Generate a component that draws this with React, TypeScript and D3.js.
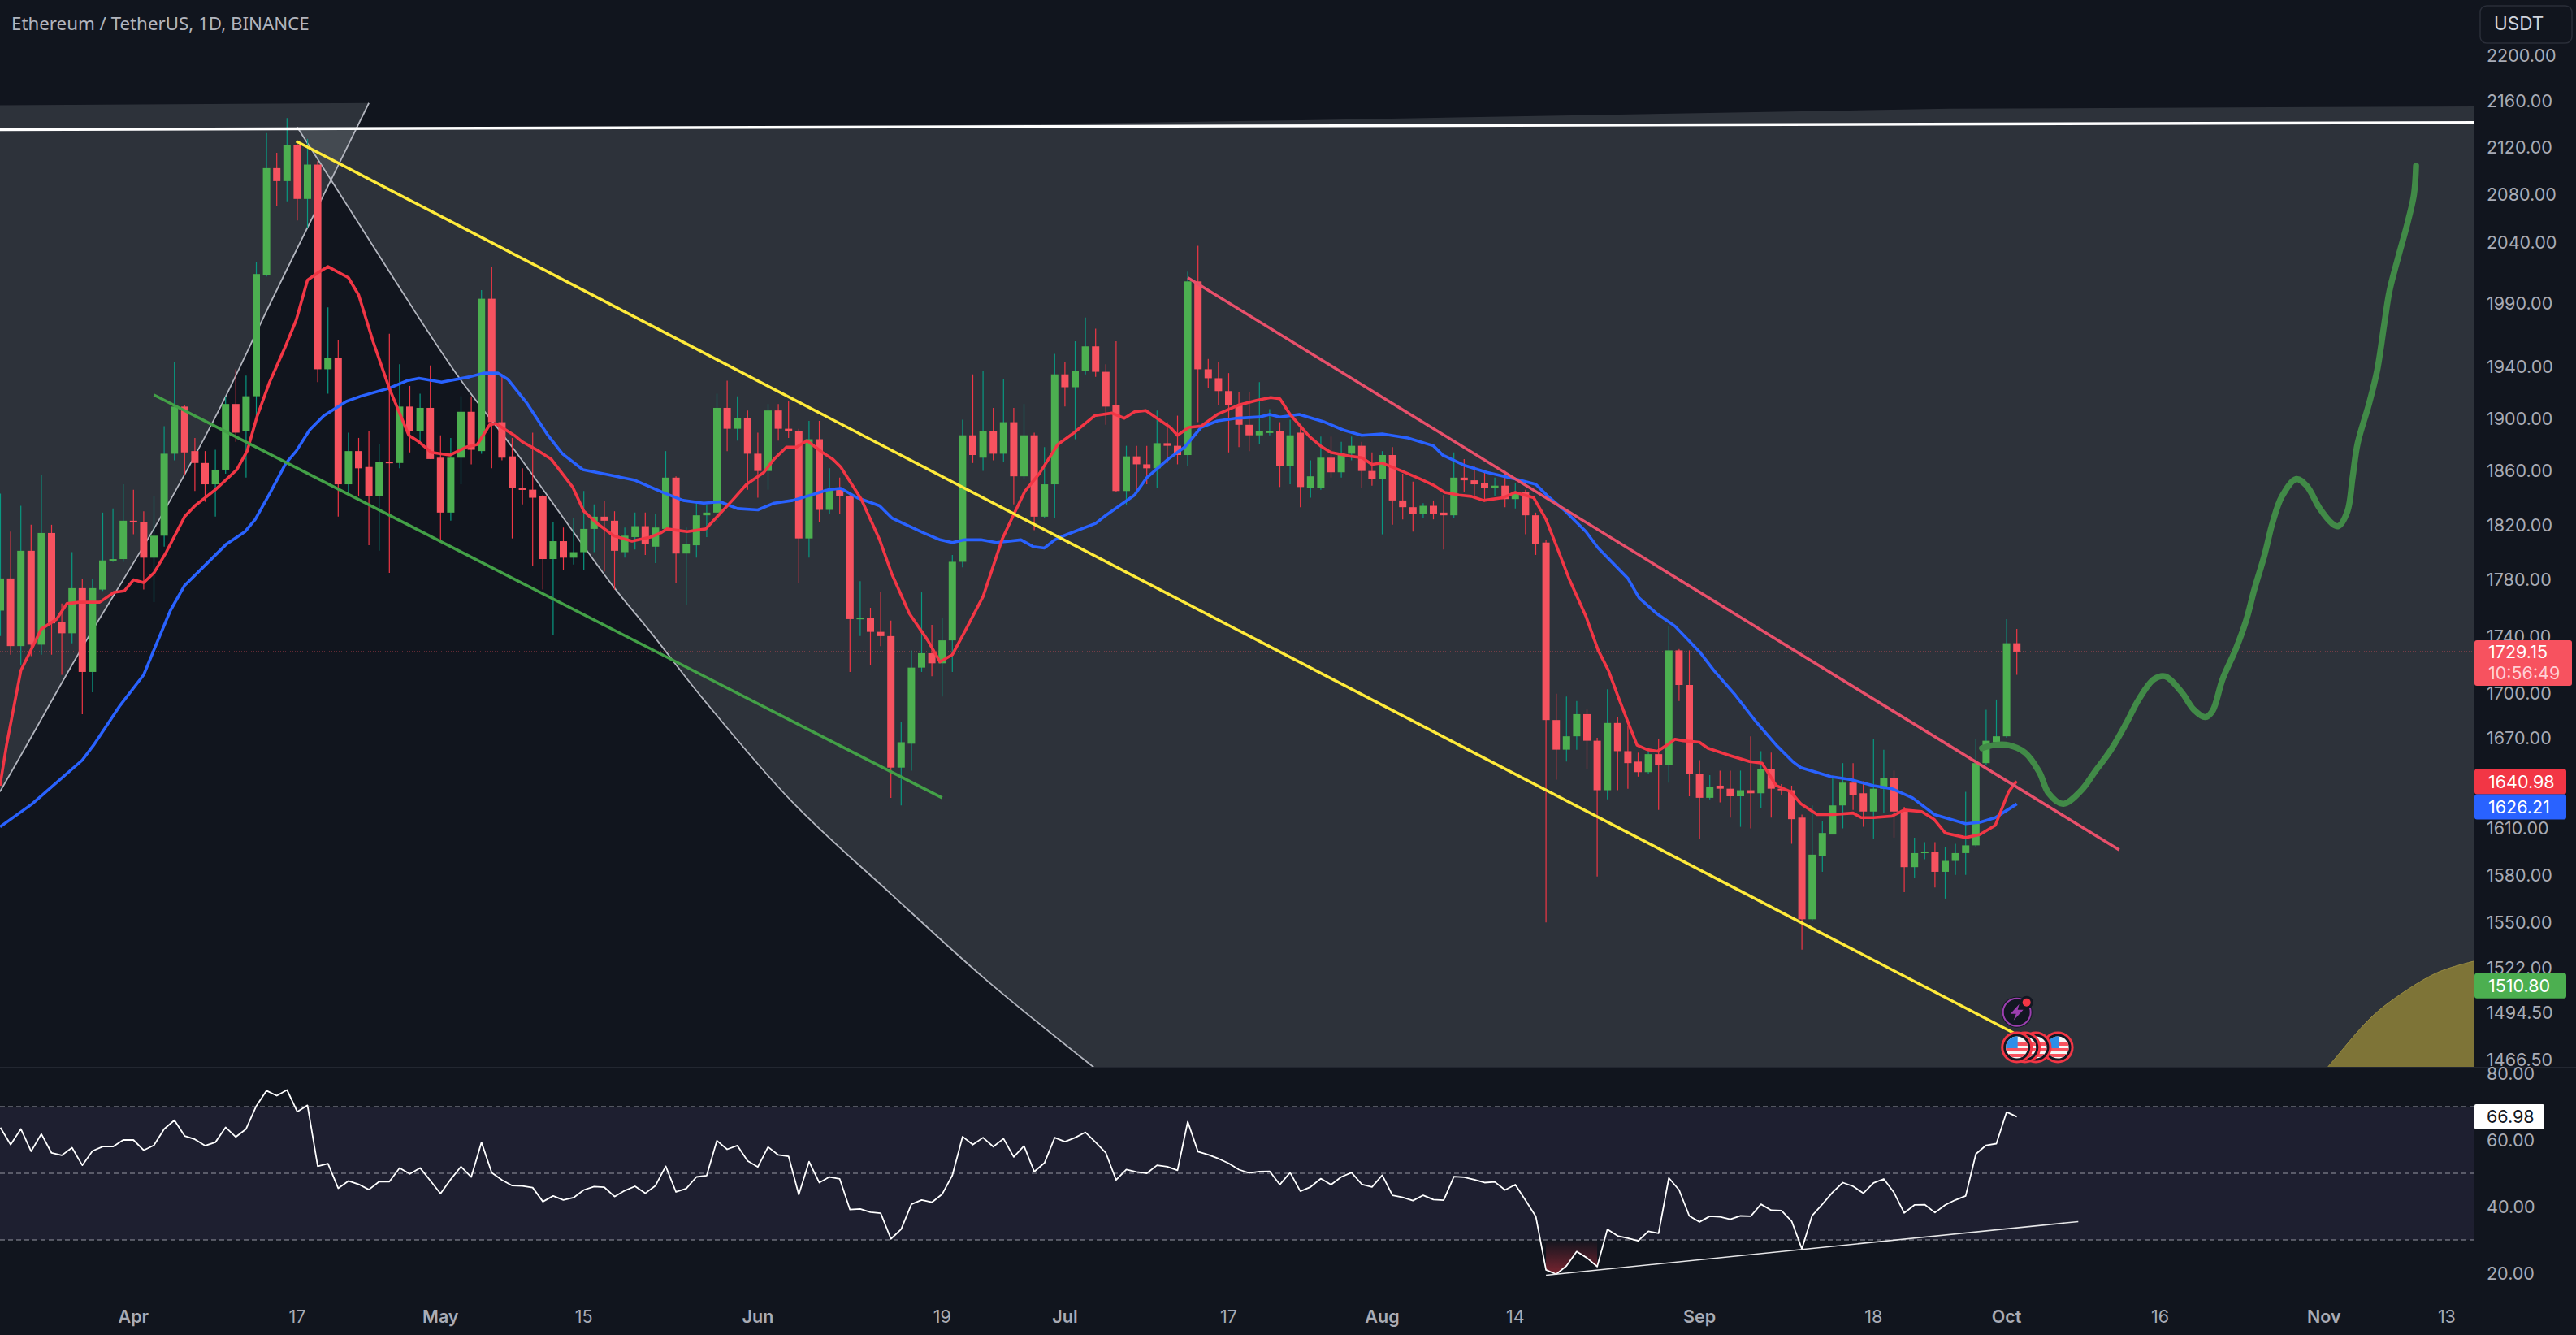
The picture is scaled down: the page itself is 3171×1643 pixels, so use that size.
import * as d3 from "d3";

// [open, high, low, close], one list per month. Bar 0 is 19 Mar 2023.
const marchBars = [
  [1758, 1843, 1740, 1781], [1781, 1815, 1727, 1733], [1733, 1834, 1720, 1801], [1801, 1820, 1726, 1734],
  [1734, 1857, 1727, 1814], [1814, 1820, 1727, 1749], [1750, 1763, 1713, 1742], [1742, 1800, 1735, 1774],
  [1774, 1781, 1686, 1715], [1715, 1781, 1701, 1774], [1773, 1829, 1772, 1794], [1794, 1832, 1793, 1795],
  [1795, 1850, 1793, 1823],
];
const aprilBars = [
  [1823, 1846, 1813, 1822], [1822, 1830, 1773, 1796], [1796, 1841, 1764, 1812], [1812, 1894, 1804, 1873],
  [1873, 1944, 1868, 1909], [1909, 1910, 1857, 1874], [1875, 1885, 1845, 1866], [1866, 1875, 1837, 1850],
  [1850, 1876, 1826, 1861], [1861, 1917, 1858, 1911], [1911, 1938, 1882, 1889], [1890, 1933, 1855, 1917],
  [1917, 2024, 1902, 2014], [2013, 2132, 2012, 2102], [2102, 2115, 2070, 2091], [2091, 2145, 2074, 2122],
  [2122, 2125, 2058, 2076], [2076, 2127, 2052, 2105], [2105, 2108, 1928, 1938], [1938, 1987, 1919, 1947],
  [1947, 1961, 1826, 1850], [1850, 1889, 1842, 1875], [1875, 1885, 1841, 1862], [1863, 1890, 1805, 1841],
  [1841, 1880, 1801, 1867], [1867, 1966, 1785, 1866], [1866, 1942, 1862, 1909], [1909, 1925, 1874, 1890],
  [1890, 1919, 1882, 1908], [1908, 1941, 1869, 1869],
];
const mayBars = [
  [1870, 1887, 1807, 1829], [1829, 1885, 1823, 1870], [1870, 1917, 1850, 1905], [1905, 1917, 1865, 1876],
  [1875, 2001, 1873, 1994], [1994, 2020, 1862, 1897], [1897, 1934, 1868, 1870], [1871, 1885, 1810, 1847],
  [1847, 1862, 1835, 1846], [1846, 1889, 1790, 1840], [1841, 1842, 1773, 1795], [1795, 1822, 1741, 1808],
  [1808, 1818, 1787, 1796], [1796, 1825, 1791, 1800], [1800, 1845, 1787, 1817], [1817, 1835, 1800, 1826],
  [1826, 1838, 1786, 1823], [1823, 1830, 1773, 1801], [1800, 1818, 1796, 1812], [1811, 1829, 1802, 1819],
  [1819, 1829, 1798, 1806], [1804, 1828, 1792, 1818], [1817, 1875, 1815, 1855], [1855, 1856, 1778, 1799],
  [1799, 1818, 1762, 1806], [1805, 1836, 1796, 1827], [1827, 1835, 1811, 1829], [1829, 1919, 1822, 1908],
  [1908, 1929, 1875, 1892], [1892, 1917, 1883, 1900], [1900, 1906, 1846, 1873],
];
const juneBars = [
  [1873, 1889, 1840, 1860], [1860, 1911, 1846, 1906], [1906, 1911, 1883, 1892], [1892, 1913, 1885, 1890],
  [1890, 1892, 1778, 1810], [1810, 1898, 1796, 1884], [1884, 1898, 1822, 1831], [1831, 1862, 1828, 1846],
  [1846, 1855, 1828, 1841], [1841, 1843, 1715, 1752], [1752, 1779, 1740, 1753], [1753, 1760, 1720, 1743],
  [1743, 1771, 1733, 1740], [1740, 1751, 1630, 1650], [1650, 1681, 1625, 1667], [1666, 1730, 1648, 1718],
  [1718, 1771, 1715, 1728], [1728, 1748, 1712, 1721], [1721, 1753, 1698, 1737], [1737, 1798, 1715, 1793],
  [1793, 1899, 1789, 1887], [1887, 1934, 1866, 1872], [1870, 1937, 1860, 1890], [1890, 1908, 1868, 1873],
  [1873, 1930, 1867, 1897], [1897, 1908, 1835, 1856], [1856, 1911, 1854, 1887], [1887, 1889, 1816, 1826],
  [1826, 1878, 1825, 1850], [1850, 1950, 1825, 1934],
];
const julyBars = [
  [1934, 1944, 1909, 1924], [1924, 1960, 1884, 1937], [1937, 1979, 1934, 1956], [1956, 1970, 1932, 1936],
  [1936, 1942, 1895, 1909], [1910, 1960, 1844, 1845], [1845, 1879, 1835, 1871], [1871, 1879, 1845, 1865],
  [1865, 1879, 1850, 1862], [1862, 1906, 1847, 1881], [1881, 1897, 1866, 1879], [1879, 1902, 1865, 1872],
  [1872, 2016, 1864, 2008], [2008, 2037, 1897, 1938], [1938, 1946, 1923, 1931], [1931, 1944, 1910, 1921],
  [1921, 1935, 1874, 1910], [1910, 1920, 1878, 1895], [1895, 1920, 1875, 1887], [1887, 1928, 1880, 1890],
  [1889, 1907, 1887, 1890], [1890, 1897, 1848, 1864], [1864, 1899, 1850, 1887], [1889, 1895, 1833, 1848],
  [1847, 1868, 1840, 1856], [1847, 1886, 1846, 1870], [1870, 1886, 1855, 1859], [1859, 1882, 1855, 1873],
  [1873, 1886, 1868, 1879], [1879, 1882, 1847, 1860], [1860, 1874, 1849, 1854],
];
const augustBars = [
  [1854, 1875, 1813, 1872], [1872, 1878, 1820, 1838], [1838, 1858, 1824, 1833], [1833, 1852, 1815, 1828],
  [1828, 1836, 1825, 1834], [1834, 1838, 1824, 1828], [1829, 1842, 1802, 1827], [1827, 1874, 1825, 1855],
  [1855, 1869, 1844, 1853], [1853, 1864, 1840, 1850], [1851, 1859, 1837, 1847], [1847, 1855, 1841, 1849],
  [1849, 1860, 1833, 1839], [1839, 1851, 1832, 1844], [1844, 1846, 1813, 1827], [1827, 1829, 1798, 1806],
  [1807, 1809, 1550, 1682], [1682, 1700, 1642, 1662], [1662, 1698, 1654, 1671], [1671, 1695, 1662, 1686],
  [1686, 1690, 1649, 1668], [1668, 1670, 1579, 1635], [1635, 1703, 1629, 1680], [1680, 1684, 1635, 1661],
  [1661, 1678, 1636, 1653], [1654, 1660, 1644, 1647], [1647, 1663, 1646, 1659], [1659, 1669, 1622, 1652],
  [1652, 1747, 1640, 1730], [1730, 1731, 1695, 1706], [1706, 1730, 1631, 1646],
];
const septemberBars = [
  [1646, 1655, 1603, 1630], [1630, 1645, 1629, 1637], [1638, 1648, 1627, 1636], [1636, 1648, 1617, 1631],
  [1631, 1648, 1611, 1635], [1635, 1671, 1610, 1633], [1633, 1661, 1623, 1649], [1649, 1660, 1617, 1636],
  [1636, 1639, 1632, 1635], [1635, 1638, 1600, 1616], [1617, 1619, 1533, 1552], [1552, 1625, 1551, 1593],
  [1592, 1615, 1582, 1607], [1606, 1644, 1606, 1625], [1625, 1653, 1610, 1640], [1640, 1653, 1622, 1632],
  [1633, 1641, 1611, 1621], [1621, 1669, 1603, 1636], [1636, 1662, 1620, 1643], [1643, 1648, 1604, 1621],
  [1622, 1624, 1569, 1585], [1585, 1604, 1578, 1594], [1594, 1601, 1590, 1595], [1595, 1601, 1572, 1582],
  [1582, 1598, 1565, 1589], [1589, 1600, 1580, 1594], [1594, 1634, 1580, 1599], [1599, 1669, 1598, 1653],
  [1653, 1689, 1652, 1668], [1667, 1696, 1666, 1671],
];
const octoberBars = [
  [1671, 1752, 1670, 1735], [1735, 1745, 1713, 1729.15],
];
const bars = [
  ...marchBars, ...aprilBars, ...mayBars, ...juneBars,
  ...julyBars, ...augustBars, ...septemberBars, ...octoberBars,
];

// moving averages as [bar, price]
const fastMaSpring = [
  [-0.04, 1638], [0.6, 1665], [2, 1716], [4, 1745], [5.5, 1752], [6.5, 1763], [7.7, 1764], [9.7, 1764], [11.1, 1771],
  [12.1, 1772], [13, 1780], [14, 1778], [15, 1785], [16.2, 1800], [18, 1826], [19, 1834], [21, 1846], [23.1, 1861],
  [24.1, 1875], [25.1, 1902], [26.3, 1928], [27.9, 1957], [28.9, 1977], [30, 2009], [31, 2015], [32, 2020], [34, 2011],
  [35, 1997], [36.4, 1960], [38, 1923], [39.9, 1887], [40.9, 1882], [42.1, 1874], [43.9, 1872], [45.5, 1878],
  [46.6, 1880], [47.8, 1895], [48.4, 1896], [50.2, 1887], [51, 1882], [52.6, 1875], [53.8, 1869], [55.9, 1848],
  [57, 1830], [58.3, 1821], [59.9, 1812], [61.7, 1808], [63.5, 1811],
];
const fastMaSummer = [
  [64.5, 1814], [65.1, 1817], [67.1, 1815], [68.9, 1817], [69.9, 1825], [71.5, 1838], [72.9, 1850], [74.6, 1859],
  [75.6, 1869], [76.8, 1878], [77.8, 1878], [78.8, 1883], [80.3, 1874], [81.3, 1869], [82.1, 1863], [84.1, 1839],
  [85.9, 1809], [87.1, 1784], [88.8, 1756], [90.6, 1737], [91.8, 1722], [93, 1727], [94.2, 1743], [96, 1768],
  [97.9, 1810], [98.9, 1826], [100.1, 1845], [101.5, 1858], [103.3, 1880], [104.9, 1889], [106.9, 1902], [108.6, 1904],
  [109.8, 1900], [110.8, 1905], [111.9, 1906], [113, 1900], [114.3, 1893], [115, 1887], [116.1, 1893], [117.3, 1894],
  [118.9, 1903], [120.9, 1910], [122.8, 1914], [124.1, 1916], [125, 1915], [126, 1903], [127.9, 1886],
];
const fastMaAutumn = [
  [128.96, 1879], [129.97, 1874], [132, 1871], [133, 1870], [134, 1865], [135, 1866], [136.9, 1860], [138.7, 1854],
  [140.1, 1849], [141.1, 1844], [142.5, 1842], [143.7, 1841], [144.9, 1838], [146.8, 1840], [148, 1844], [149.8, 1840],
  [151, 1824], [152, 1805], [153.3, 1780], [154.9, 1754], [156.1, 1730], [157.1, 1716], [158.1, 1697], [159.1, 1679],
  [159.9, 1665], [160.9, 1662], [161.9, 1661], [162.8, 1665], [163.6, 1669], [164.4, 1668], [166, 1667], [166.8, 1663],
  [169, 1658], [170.9, 1654], [172.1, 1653], [173.5, 1638], [174.9, 1634], [175.9, 1626], [177.5, 1619], [179, 1619],
  [181, 1620], [181.8, 1617], [183, 1617], [184.8, 1618], [186, 1622], [187.7, 1621], [188.9, 1616], [190, 1607],
  [192, 1604], [193.4, 1606], [194.9, 1612], [195.6, 1624], [196.2, 1634], [196.97, 1641],
];
const slowMaSpring = [
  [-0.04, 1611], [3.1, 1626], [8, 1655], [9.1, 1665], [11.7, 1692], [14, 1713], [15.1, 1732], [16.6, 1758], [18, 1776],
  [20.2, 1792], [22.1, 1806], [23.9, 1815], [24.9, 1824], [26.3, 1843], [27.9, 1866], [28.9, 1875], [30.2, 1891],
  [31.6, 1902], [33.8, 1913], [35.2, 1917], [37.9, 1923], [39.7, 1929], [40.9, 1931], [43.1, 1928], [45.8, 1932],
  [47.2, 1935], [48.6, 1935], [49.6, 1930], [51.4, 1912], [53.4, 1888], [54.9, 1873], [56.9, 1861], [59.5, 1857],
  [62, 1853], [63.5, 1848],
];
const slowMaSummer = [
  [64.7, 1844], [66.7, 1838], [68.7, 1836], [70.3, 1837], [72, 1832], [74, 1831], [75.6, 1836], [77.4, 1838],
  [79.2, 1842], [80.9, 1846], [82.1, 1847], [83.7, 1840], [85.9, 1834], [87.1, 1825], [90.2, 1814], [91.8, 1809],
  [93, 1807], [94.2, 1809], [95.8, 1809], [97.3, 1807], [99.7, 1809], [100.9, 1804], [102, 1803], [103, 1809],
  [103.9, 1812], [107, 1821], [108, 1827], [110.8, 1842], [112, 1855], [114.1, 1869], [115.7, 1878], [117.3, 1893],
  [118.9, 1898], [120.7, 1900], [123, 1901], [124, 1903], [125, 1901], [126.9, 1903],
];
const slowMaAutumn = [
  [129.4, 1897], [131.2, 1891], [133, 1887], [135, 1888], [137.5, 1885], [140, 1879], [140.9, 1872], [143.1, 1864],
  [145.2, 1859], [148, 1854], [150, 1850], [151.2, 1841], [152.9, 1830], [154.9, 1815], [156.1, 1803], [159, 1781],
  [160.1, 1767], [161.8, 1756], [163.6, 1747], [166, 1729], [167.4, 1716], [169.5, 1699], [171.5, 1681], [173.5, 1665],
  [175.1, 1654], [175.9, 1650], [178.8, 1644], [180.8, 1642], [183, 1638], [184.8, 1636], [186.8, 1630], [188.95, 1619],
  [192, 1613], [193.4, 1614], [194.9, 1617], [195.6, 1620], [197, 1626],
];

// the hand drawn forecast
const forecastPath = [
  [193.6, 1663], [194.7, 1665], [196.2, 1665], [197.8, 1660], [199.2, 1647], [200.1, 1633], [201.5, 1626], [203.3, 1635],
  [204.6, 1647], [206.2, 1662], [207.7, 1680], [208.9, 1696], [210.4, 1710], [211.5, 1712], [213.1, 1701], [214.3, 1689],
  [215.4, 1684], [216.1, 1688], [217.1, 1710], [218.4, 1731], [219.4, 1751], [220.2, 1773], [221.2, 1798], [222, 1822],
  [222.9, 1841], [224.3, 1854], [225.3, 1849], [226.6, 1832], [227.8, 1821], [228.4, 1819], [229.3, 1830], [229.8, 1855],
  [230.3, 1881], [231.4, 1911], [232.2, 1937], [232.9, 1974], [233.4, 2000], [234.2, 2026], [235.2, 2057], [235.8, 2080],
  [236, 2104],
];

// trend lines, [bar, price]
const yellowLine = [[28.9, 2125], [196.8, 1482]];
const greenLine = [[15, 1918], [92, 1630]];
const redLine = [[116, 2011], [207, 1596]];
const whiteLine = [[-0.04, 2135], [241.7, 2141]];

// shaded fan
const fanLeftEdge = [
  [36, 2158], [32.3, 2092], [26.5, 1992.6], [21, 1901], [15.5, 1823.6], [7.66, 1728], [2.4, 1663], [-0.04, 1634],
];
const fanLeftTop = [[-0.04, 2156]];
const fanRightEdge = [
  [29, 2137], [32.3, 2092], [44.5, 1935], [50.2, 1876], [59.9, 1775], [63.5, 1743], [68.7, 1696], [77.4, 1627],
  [87, 1568], [96.2, 1515], [106.9, 1461.5],
];
const fanRightTop = [[241.7, 1461], [241.7, 2155], [190.4, 2153], [127, 2143], [79.3, 2137]];
const oliveArc = [[227.3, 1461.5], [228, 1466.5], [231.5, 1491], [234.1, 1504], [238.1, 1519], [241.7, 1526]];

// RSI, one value per bar
const rsiSpring = [
  63.7, 58.6, 63.3, 56.6, 61.8, 56.1, 55.4, 57.7, 52.4, 56.7, 58, 58, 60, 60, 56.9, 58.4, 63.3, 65.9, 61.2, 60.2,
  58.3, 59.3, 63.8, 60.9, 63.3, 70.2, 74.8, 73.3, 75, 68.5, 70.4, 52.1, 52.9, 45.5, 47.7, 46.7, 45.1, 47.5, 47.5, 51.6,
  49.8, 51.6, 47.8, 43.9, 48.2, 52, 48.9, 59.3, 50.2, 48, 46.3, 46.2, 45.7, 41.5, 43.2, 42, 42.7, 45, 46, 45.8,
  43, 44.8, 46.1, 44, 46.3, 52.1, 44.4, 45.4, 48.9, 49.3, 59.8, 57.2, 58.3, 53.7, 51.9, 57.9, 55.5, 55.1, 43.6, 53.5,
  47.2, 48.9, 48.3, 39.1, 39.3, 38.3, 38, 30.3,
];
const rsiSummer = [
  33.2, 40.7, 42, 41.3, 43.7, 49.4, 61, 58.6, 60.7, 58, 60.4, 54.9, 58.2, 50.5, 53.1, 60.7, 59.5, 60.7, 62.3, 59.3,
  56.1, 48, 51.1, 50.4, 50, 52.4, 52, 50.9, 65.5, 56.5, 55.6, 54.4, 53, 51.1, 50.1, 50.5, 50.6, 46.6, 50.2, 44.6,
  45.9, 48.4, 46.6, 48.9, 50.2, 46.7, 45.9, 49.4, 43.4, 42.8, 41.8, 43.4, 42.1, 41.9, 49, 48.8, 48.1, 47.2, 47.4, 45,
  46.6, 41.9, 37.1, 21, 19.7, 22.2, 26.5, 24.6, 22, 33.2, 31.2, 30.5, 29.7, 32.6, 32, 48.6, 45, 37.2, 35.4,
];
const rsiAutumn = [
  37.1, 36.9, 36.2, 37.2, 37.1, 40.7, 38.9, 38.8, 35.6, 27.3, 37.3, 40.7, 44.3, 47.2, 46.1, 44, 47.1, 48.3, 44.2, 38.1,
  40.5, 40.6, 38.2, 40.5, 42, 43.2, 55.8, 58.4, 58.9, 68.4, 66.98,
];
const rsiValues = [...rsiSpring, ...rsiSummer, ...rsiAutumn];
const rsiTrend = [[151, 19.4], [203, 35.5]];

// axes
const priceTicks = [
  2200, 2160, 2120, 2080, 2040, 1990, 1940, 1900, 1860, 1820, 1780, 1740, 1700, 1670, 1640, 1610, 1580, 1550, 1522,
  1494.5, 1466.5,
];
const rsiTicks = [80, 60, 40, 20];
const rsiLevels = [70, 50, 30];
const timeTicks: [number, string][] = [
  [13, "Apr"], [29, "17"], [43, "May"], [57, "15"], [74, "Jun"], [92, "19"], [104, "Jul"], [120, "17"],
  [135, "Aug"], [148, "14"], [166, "Sep"], [183, "18"], [196, "Oct"], [211, "16"], [227, "Nov"], [239, "13"],
];
const newsBars = [201, 198.85, 197.8, 197];

const BG = "#11151e";
const TEXT = "#a8abb5";
const FONT = "Inter, sans-serif";
const PANE_RIGHT = 3046;
const MAIN_BOTTOM = 1313;

const x = d3.scaleLinear().domain([0, 197]).range([0.5, 2482.7]);
const y = d3.scaleLog().domain([2200, 1466.5]).range([68, 1304]);
const rsiY = d3.scaleLinear().domain([70, 30]).range([1362, 1526]);

const straight = d3
  .line<number[]>()
  .x((d) => x(d[0]))
  .y((d) => y(d[1]));
const smoothLine = d3
  .line<number[]>()
  .x((d) => x(d[0]))
  .y((d) => y(d[1]))
  .curve(d3.curveCatmullRom.alpha(0.5));
const rsiLine = d3
  .line<number>()
  .x((_, i) => x(i))
  .y((d) => rsiY(d));
const rsiLow = d3
  .area<number>()
  .defined((d) => d < 30)
  .x((_, i) => x(i))
  .y0(rsiY(30))
  .y1((d) => rsiY(d));

function PriceTag({ price, fill, at, width }: { price: string; fill: string; at: number; width: number }) {
  return (
    <g>
      <rect x={PANE_RIGHT} y={at - 15.5} width={width} height={31} fill={fill} rx={3} />
      <text x={3063} y={at} dy="0.36em" fill="#fff" fontSize={21.5} fontFamily={FONT}>
        {price}
      </text>
    </g>
  );
}

function Flag({ bar }: { bar: number }) {
  const cx = x(bar);
  const cy = 1289;
  const id = `flag-${String(bar).replace(".", "-")}`;
  return (
    <g>
      <circle cx={cx} cy={cy} r={19.5} fill="#f23645" />
      <circle cx={cx} cy={cy} r={16.5} fill="#131722" />
      <clipPath id={id}>
        <circle cx={cx} cy={cy} r={13.5} />
      </clipPath>
      <g clipPath={`url(#${id})`}>
        <rect x={cx - 14} y={cy - 14} width={28} height={28} fill="#f7f7f7" />
        {[-6, 1, 8].map((o) => (
          <rect key={o} x={cx - 14} y={cy + o} width={28} height={4} fill="#f7525f" />
        ))}
        <rect x={cx - 14} y={cy - 14} width={15} height={15} fill="#2f8fe8" />
      </g>
    </g>
  );
}

function Bolt({ bar }: { bar: number }) {
  const cx = x(bar);
  const cy = 1245.7;
  return (
    <g>
      <circle cx={cx} cy={cy} r={19} fill="#131722" />
      <circle cx={cx} cy={cy} r={17} fill="none" stroke="#9c3fb0" strokeWidth={2} />
      <path
        transform={`translate(${cx},${cy})`}
        d="M3,-10 L-8,2 L-1,2 L-4,10 L8,-3 L1,-3 Z"
        fill="#9c3fb0"
      />
      <circle cx={cx + 12} cy={cy - 12} r={8} fill="#131722" />
      <circle cx={cx + 12} cy={cy - 12} r={5} fill="#f23645" />
    </g>
  );
}

export default function App() {
  const fanLeftCurve = smoothLine(fanLeftEdge) ?? "";
  const fanRightCurve = smoothLine(fanRightEdge) ?? "";
  // closing runs of the fan shapes, taken as plain L segments after the curved edge
  const fanLeft =
    fanLeftCurve + fanLeftTop.map((d) => `L${x(d[0])},${y(d[1])}`).join("") + "Z";
  const fanRight =
    fanRightCurve + fanRightTop.map((d) => `L${x(d[0])},${y(d[1])}`).join("") + "Z";
  const olive = smoothLine(oliveArc) + `L${x(241.7)},${y(1461)}Z`;
  const lastClose = y(1729.15);

  return (
    <>
      <style>{"body{margin:0;overflow:hidden}"}</style>
      <svg
        width={3171}
        height={1643}
        style={{ position: "absolute", left: 0, top: 0, display: "block" }}
      >
        <defs>
          <clipPath id="main-pane">
            <rect x={0} y={0} width={PANE_RIGHT} height={MAIN_BOTTOM} />
          </clipPath>
          <linearGradient id="rsi-low" x1="0" x2="0" y1={rsiY(30)} y2={rsiY(19)} gradientUnits="userSpaceOnUse">
            <stop offset="0" stopColor="#f23645" stopOpacity={0} />
            <stop offset="1" stopColor="#f23645" stopOpacity={0.5} />
          </linearGradient>
        </defs>
        <rect width={3171} height={1643} fill={BG} />

        <g clipPath="url(#main-pane)">
          {/* fan shading */}
          <path d={fanLeft} fill="#b2b5be" fillOpacity={0.18} />
          <path d={fanRight} fill="#b2b5be" fillOpacity={0.18} />
          <path d={fanLeftCurve} fill="none" stroke="#b2b5be" strokeWidth={1.8} />
          <path d={fanRightCurve} fill="none" stroke="#b2b5be" strokeWidth={1.8} />
          <path d={olive} fill="#7e7437" stroke="#9a8d42" strokeWidth={1} />

          <line x1={0} x2={PANE_RIGHT} y1={lastClose} y2={lastClose} stroke="#f7525f" strokeOpacity={0.6} strokeDasharray="1 2" />

          {/* candles */}
          {bars.map((b, i) => {
            const [o, h, l, c] = b;
            const up = c >= o;
            const top = y(Math.max(o, c));
            const bottom = y(Math.min(o, c));
            return (
              <g key={i}>
                <line
                  x1={x(i)}
                  x2={x(i)}
                  y1={y(h)}
                  y2={y(l)}
                  stroke={up ? "#089981" : "#f23645"}
                  strokeWidth={1.2}
                />
                <rect
                  x={x(i) - 4.5}
                  y={top}
                  width={9}
                  height={Math.max(bottom - top, 2)}
                  fill={up ? "#4caf50" : "#f7525f"}
                />
              </g>
            );
          })}

          {/* moving averages */}
          <path
            d={straight([...slowMaSpring, ...slowMaSummer, ...slowMaAutumn]) ?? ""}
            fill="none"
            stroke="#2962ff"
            strokeWidth={3.6}
            strokeLinejoin="round"
          />
          <path
            d={straight([...fastMaSpring, ...fastMaSummer, ...fastMaAutumn]) ?? ""}
            fill="none"
            stroke="#f23645"
            strokeWidth={3.6}
            strokeLinejoin="round"
          />

          {/* trend lines */}
          <path d={straight(yellowLine) ?? ""} stroke="#ffeb3b" strokeWidth={3.5} fill="none" />
          <path d={straight(greenLine) ?? ""} stroke="#43a047" strokeWidth={3.5} fill="none" />
          <path d={straight(redLine) ?? ""} stroke="#e8506b" strokeWidth={3.5} fill="none" />
          <path d={straight(whiteLine) ?? ""} stroke="#ffffff" strokeWidth={3.5} fill="none" />
          <path
            d={smoothLine(forecastPath) ?? ""}
            stroke="#418a47"
            strokeWidth={7.5}
            fill="none"
            strokeLinecap="round"
            strokeLinejoin="round"
          />

          {newsBars.map((b) => (
            <Flag key={b} bar={b} />
          ))}
          <Bolt bar={197} />
        </g>

        {/* pane separator */}
        <line x1={0} x2={3171} y1={MAIN_BOTTOM + 1} y2={MAIN_BOTTOM + 1} stroke="#2a2e39" strokeWidth={1.5} />

        {/* RSI pane */}
        <rect x={0} y={rsiY(70)} width={PANE_RIGHT} height={rsiY(30) - rsiY(70)} fill="#1e1f30" />
        {rsiLevels.map((v) => (
          <line
            key={v}
            x1={0}
            x2={PANE_RIGHT}
            y1={rsiY(v)}
            y2={rsiY(v)}
            stroke="#9598a1"
            strokeWidth={1.2}
            strokeDasharray="6 4"
          />
        ))}
        <path d={rsiLow(rsiValues) ?? ""} fill="url(#rsi-low)" />
        <path d={rsiLine(rsiValues) ?? ""} fill="none" stroke="#ffffff" strokeWidth={1.8} strokeLinejoin="round" />
        <line
          x1={x(rsiTrend[0][0])}
          x2={x(rsiTrend[1][0])}
          y1={rsiY(rsiTrend[0][1])}
          y2={rsiY(rsiTrend[1][1])}
          stroke="#e6e6e8"
          strokeWidth={1.6}
        />

        {/* price axis */}
        {priceTicks.map((t) => (
          <text key={t} x={3061} y={y(t)} dy="0.36em" fill={TEXT} fontSize={21.5} fontFamily={FONT}>
            {t.toFixed(2)}
          </text>
        ))}
        {rsiTicks.map((t) => (
          <text key={t} x={3061} y={rsiY(t)} dy="0.36em" fill={TEXT} fontSize={21.5} fontFamily={FONT}>
            {t.toFixed(2)}
          </text>
        ))}

        {/* last value tags */}
        <rect x={PANE_RIGHT} y={788} width={120} height={56} rx={3} fill="#f7525f" />
        <text x={3063} y={lastClose} dy="0.36em" fill="#ffffff" fontSize={21.5} fontFamily={FONT}>
          1729.15
        </text>
        <text x={3063} y={828} dy="0.36em" fill="#ffd0d5" fontSize={21.5} fontFamily={FONT}>
          10:56:49
        </text>
        <PriceTag price="1640.98" fill="#f23645" at={962} width={113} />
        <PriceTag price="1626.21" fill="#2962ff" at={993} width={113} />
        <PriceTag price="1510.80" fill="#4caf50" at={y(1510.8)} width={113} />
        <rect x={PANE_RIGHT} y={1359} width={86} height={31} rx={2} fill="#ffffff" />
        <text x={3061} y={rsiY(66.98)} dy="0.36em" fill="#131722" fontSize={21.5} fontFamily={FONT}>
          66.98
        </text>

        {/* USDT button */}
        <rect x={3053} y={7} width={113} height={46} rx={8} fill={BG} stroke="#2a2e39" strokeWidth={1.5} />
        <text x={3070} y={29} dy="0.36em" fill="#d1d4dc" fontSize={22.5} fontFamily={FONT}>
          USDT
        </text>

        {/* time axis */}
        {timeTicks.map(([bar, label]) => (
          <text
            key={`${bar}-${label}`}
            x={x(bar)}
            y={1620}
            dy="0.36em"
            textAnchor="middle"
            fill={TEXT}
            fontSize={21.5}
            fontWeight={label.length > 2 ? 600 : 400}
            fontFamily={FONT}
          >
            {label}
          </text>
        ))}

        {/* title */}
        <text x={14} y={29} dy="0.36em" fill="#b2b5be" fontSize={22.3} fontFamily="'Noto Sans', sans-serif">
          Ethereum / TetherUS, 1D, BINANCE
        </text>
      </svg>
    </>
  );
}
